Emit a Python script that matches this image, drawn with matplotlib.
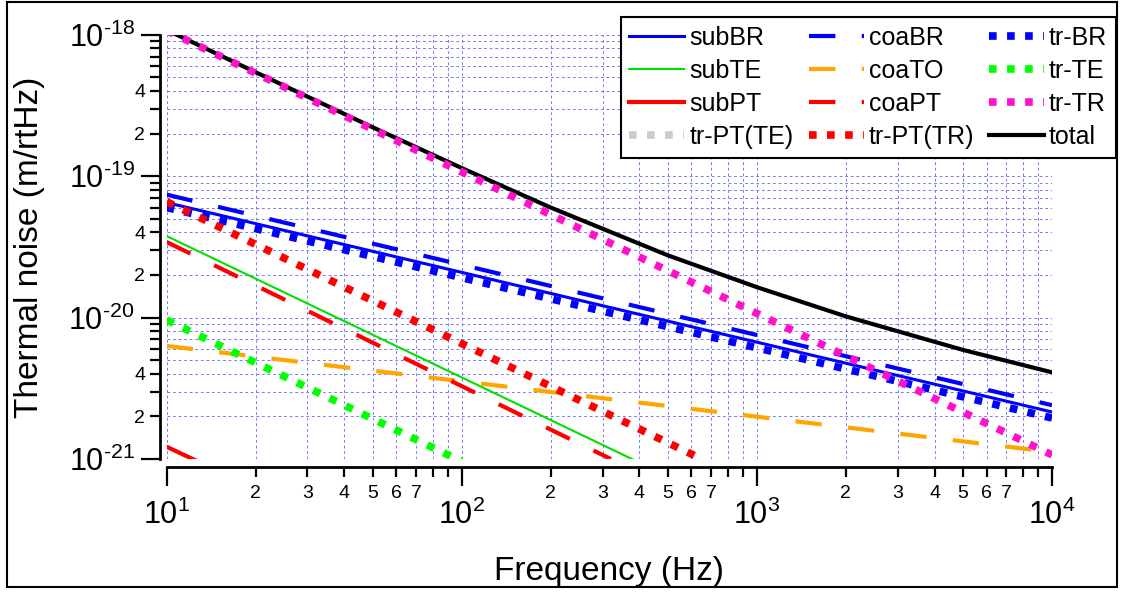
import numpy as np
import matplotlib
matplotlib.use("Agg")
import matplotlib.pyplot as plt
from matplotlib.ticker import FixedLocator, FuncFormatter
from matplotlib.patches import Rectangle

plt.rcParams['font.family'] = ['Liberation Sans', 'DejaVu Sans']
plt.rcParams['mathtext.fontset'] = 'custom'
plt.rcParams['mathtext.rm'] = 'Liberation Sans'
plt.rcParams['lines.scale_dashes'] = False

# values (frequency in Hz, noise in m/rtHz)
subBR_f = [10, 1e4]
subBR = [6.5e-20, 2.15e-21]
subTE_f = [10, 385]
subTE = [3.77e-20, 9.8e-22]
subPT_f = [10, 12.5]
subPT = [1.22e-21, 9.8e-22]
coaBR_f = [10, 1e4]
coaBR = [7.4e-20, 2.4e-21]
coaTO_f = [10, 1e4]
coaTO = [6.3e-21, 1.12e-21]
coaPT_f = [10, 320]
coaPT = [3.42e-20, 1.0e-21]
trBR_f = [10, 1e4]
trBR = [6.0e-20, 1.95e-21]
trTE_f = [10, 100]
trTE = [9.6e-21, 9.6e-22]
trTR_f = [10, 1e4]
trTR = [1.07e-18, 1.07e-21]
trPT_TE_f = []
trPT_TE = []
trPT_TR_f = [10, 650]
trPT_TR = [6.6e-20, 1.0e-21]
total_f = [10, 20, 50, 100, 200, 500, 1000, 2000, 5000, 10000]
total = [1.08e-18, 5.43e-19, 2.21e-19, 1.14e-19, 6.0e-20, 2.75e-20,
         1.64e-20, 1.02e-20, 5.9e-21, 4.1e-21]

x_major = [10, 100, 1000, 10000]
x_minor_lab = [2, 3, 4, 5, 6, 7]
y_major = [1e-21, 1e-20, 1e-19, 1e-18]
y_minor_lab = [2, 4]

W, H = 1125, 594
fig = plt.figure(figsize=(W / 100, H / 100), dpi=100)
ax = fig.add_axes([166.7 / W, 1 - 459 / H, (1052 - 166.7) / W, (459 - 34.7) / H])

dash = (0, (19, 19))
dot = (0, (5.5, 7.5))
blue, green, red = '#0000ff', '#00e000', '#ff0000'
orange, magenta = '#ffa500', '#ff11cc'

h = {}
h['subBR'], = ax.plot(subBR_f, subBR, color=blue, lw=2.2)
h['subTE'], = ax.plot(subTE_f, subTE, color=green, lw=1.5)
h['subPT'], = ax.plot(subPT_f, subPT, color=red, lw=3)
h['coaBR'], = ax.plot(coaBR_f, coaBR, color=blue, lw=3, ls=dash)
h['coaTO'], = ax.plot(coaTO_f, coaTO, color=orange, lw=3, ls=dash)
h['coaPT'], = ax.plot(coaPT_f, coaPT, color=red, lw=3, ls=dash)
h['tr-BR'], = ax.plot(trBR_f, trBR, color=blue, lw=5.5, ls=dot)
h['tr-TE'], = ax.plot(trTE_f, trTE, color='#00ff00', lw=5.5, ls=dot)
h['tr-PT(TE)'], = ax.plot(trPT_TE_f, trPT_TE, color='#cccccc', lw=5.5, ls=dot)
h['tr-PT(TR)'], = ax.plot(trPT_TR_f, trPT_TR, color=red, lw=5.5, ls=dot)
h['total'], = ax.plot(total_f, total, color='black', lw=3)
h['tr-TR'], = ax.plot(trTR_f, trTR, color=magenta, lw=5.5, ls=dot)

ax.set_xscale('log')
ax.set_yscale('log')
ax.set_xlim(10, 1e4)
ax.set_ylim(1e-21, 1e-18)

# ticks
ax.xaxis.set_major_locator(FixedLocator(x_major))
ax.xaxis.set_minor_locator(FixedLocator([m * d for d in x_major[:-1] for m in range(2, 10)]))
ax.yaxis.set_major_locator(FixedLocator(y_major))
ax.yaxis.set_minor_locator(FixedLocator([m * d for d in y_major[:-1] for m in range(2, 10)]))

def major_fmt(v, pos):
    e = int(round(np.log10(v)))
    sign = '\u2010' if e < 0 else ''
    return r'$\mathregular{10^{%s%d}}$' % (sign, abs(e))

def minor_fmt(labs):
    def f(v, pos):
        lead = int(round(v / 10 ** np.floor(np.log10(v) + 1e-9)))
        return str(lead) if lead in labs else ''
    return f

ax.xaxis.set_major_formatter(FuncFormatter(major_fmt))
ax.yaxis.set_major_formatter(FuncFormatter(major_fmt))
ax.xaxis.set_minor_formatter(FuncFormatter(minor_fmt(x_minor_lab)))
ax.yaxis.set_minor_formatter(FuncFormatter(minor_fmt(y_minor_lab)))

ax.tick_params(which='major', direction='out', length=14, width=1.6, labelsize=22)
ax.tick_params(which='minor', direction='out', length=7.5, width=1.6, labelsize=14)
ax.tick_params(axis='x', which='major', pad=9)
ax.tick_params(axis='x', which='minor', pad=5)
ax.tick_params(axis='y', which='major', pad=4)
ax.tick_params(axis='y', which='minor', pad=3)

for s in ['top', 'right']:
    ax.spines[s].set_visible(False)
ax.spines['left'].set_position(('outward', 5))
ax.spines['bottom'].set_position(('outward', 6))
for s in ['left', 'bottom']:
    ax.spines[s].set_linewidth(2)

ax.grid(True, which='both', color='#7777ff', ls=(0, (2, 2)), lw=0.7)
ax.set_axisbelow(True)

ax.set_xlabel('Frequency (Hz)', fontsize=24, labelpad=18)
ax.set_ylabel('Thermal noise (m/rtHz)', fontsize=24, labelpad=17)

order = ['subBR', 'subTE', 'subPT', 'tr-PT(TE)',
         'coaBR', 'coaTO', 'coaPT', 'tr-PT(TR)',
         'tr-BR', 'tr-TE', 'tr-TR', 'total']
leg = ax.legend([h[k] for k in order], order, ncol=3, fontsize=18,
                loc='upper right', bbox_to_anchor=(1116 / W, 1 - 17 / H),
                bbox_transform=fig.transFigure, borderaxespad=0,
                handlelength=2.2, handletextpad=0.2, columnspacing=0.6,
                labelspacing=0.36, borderpad=0.35, fancybox=False,
                framealpha=1, edgecolor='black')
leg.get_frame().set_linewidth(1.5)

fig.patches.append(Rectangle((7 / W, 7 / H), 1110 / W, 585 / H, transform=fig.transFigure,
                             fill=False, lw=1.5, edgecolor='black'))

fig.savefig('out.png', dpi=100)
